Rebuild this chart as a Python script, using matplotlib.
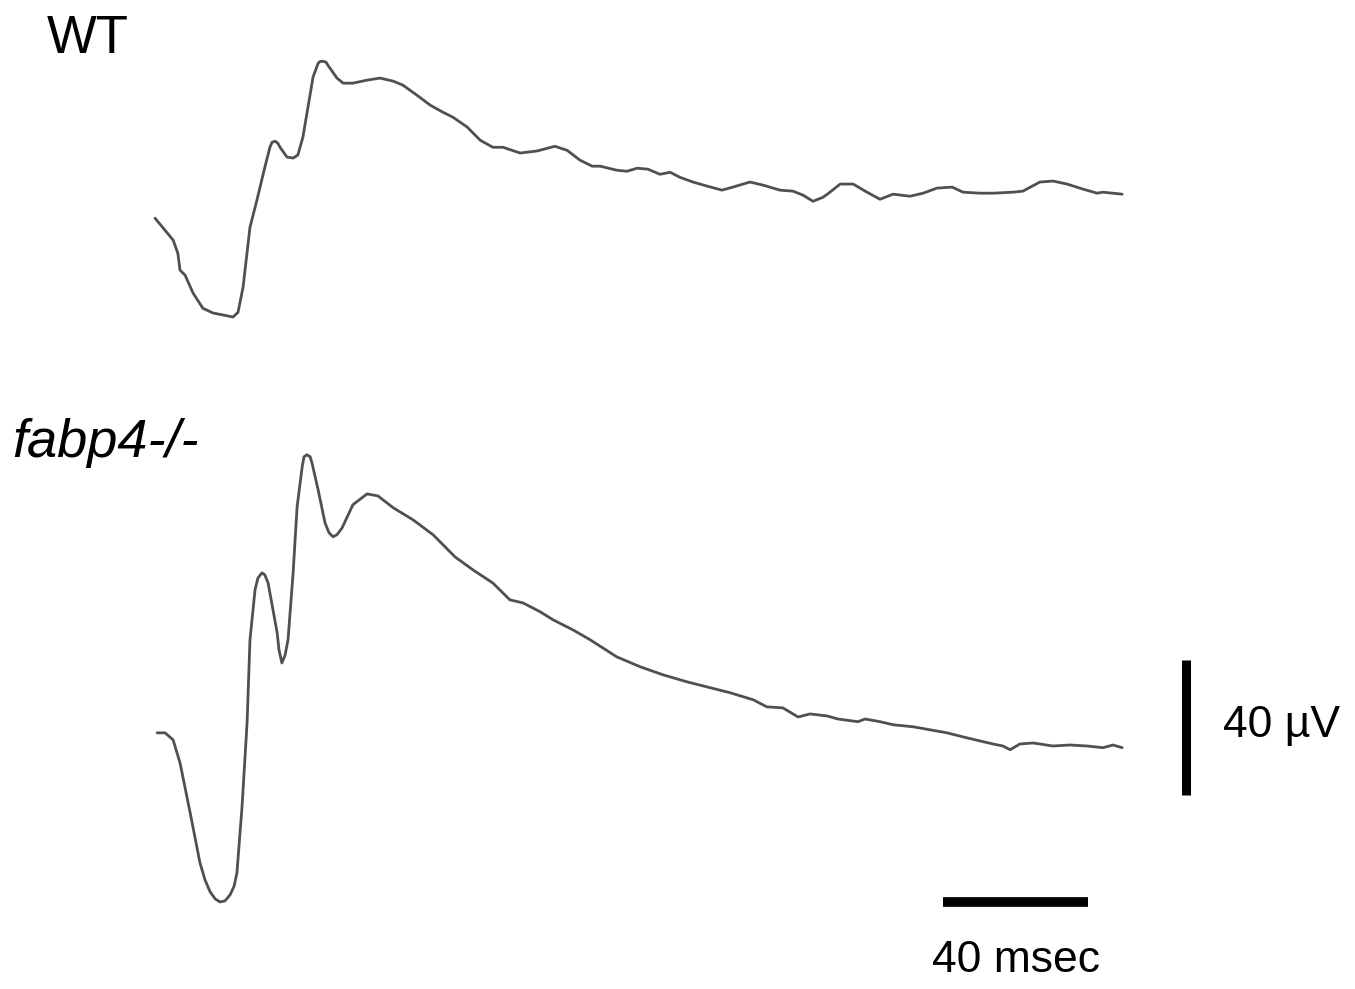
import matplotlib
matplotlib.use("Agg")
import matplotlib.pyplot as plt
import numpy as np

plt.rcParams['font.family'] = ['Liberation Sans', 'DejaVu Sans']

# WT trace: time (ms) and amplitude (uV, relative to first sample)
wt_t = [0.0, 5.0, 6.3, 6.9, 8.3, 10.5, 13.2, 16.0, 18.8, 21.5, 22.9, 24.3, 26.2, 28.1,
        30.3, 31.7, 32.3, 33.1, 33.9, 34.5, 36.4, 38.1, 39.4, 40.8, 42.2, 43.6, 45.0,
        45.5, 46.3, 47.2, 47.7,
        50.2, 51.9, 54.6, 58.5, 62.1, 65.7, 68.4, 72.3, 75.9, 79.4, 82.2, 86.1, 89.7,
        93.2, 96.0, 100.7, 105.4, 110.3, 113.7, 117.2, 120.6, 122.8, 127.4, 130.2,
        133.0, 136.0, 139.3, 142.1, 144.8, 148.4, 152.3, 156.4, 159.4, 164.1, 167.7,
        172.4, 176.0, 178.8, 181.5, 184.3, 186.2, 189.0, 192.6, 196.4, 200.0, 203.6,
        208.3, 211.9, 215.7, 219.9, 222.9, 227.6, 231.2, 236.7, 239.4, 244.1, 247.7,
        251.6, 256.0, 259.9, 261.5, 266.8]
wt_v = [0.0, -6.5, -10.4, -15.4, -16.9, -22.2, -26.7, -28.1, -28.7, -29.3, -27.9, -20.4,
        -2.7, 5.3, 15.1, 21.0, 22.5, 22.8, 22.2, 21.0, 18.1, 17.8, 18.7, 24.0, 32.9,
        41.8, 45.9, 46.4, 46.5, 46.2, 45.3,
        41.5, 40.0, 40.0, 40.9, 41.5, 40.6, 39.4, 36.4, 33.5, 31.4, 29.9,
        27.0, 23.1, 21.0, 21.0, 19.3, 19.9, 21.3, 20.1, 17.2, 15.4, 15.4, 14.2, 13.9,
        14.8, 14.5, 13.0, 13.6, 12.1, 10.7, 9.5, 8.3, 9.2, 10.7, 9.8, 8.3, 8.0, 6.8,
        5.0, 6.2, 7.7, 10.1, 10.1, 7.7, 5.6, 7.1, 6.5, 7.4, 8.9, 9.2, 7.7, 7.4, 7.4,
        7.7, 8.0, 10.7, 11.0, 10.1, 8.6, 7.4, 7.7, 7.1]

# fabp4-/- trace
ko_t = [0.6, 2.8, 5.0, 6.9, 9.7, 12.4, 13.8, 15.2, 16.6, 17.9, 19.3, 20.7, 21.8, 22.6,
        24.0, 25.4, 26.2, 27.6, 28.4, 29.5, 30.3, 31.2, 33.7, 34.2, 35.0, 35.9, 36.7,
        38.1, 39.2, 40.6, 41.1, 41.9, 42.8, 43.3, 45.0, 46.9, 48.0, 49.1, 50.2,
        51.6, 54.6, 58.5, 61.5, 65.7, 71.2, 76.7, 82.8, 87.7, 93.2, 97.9, 101.5, 106.2,
        109.8, 115.3, 120.0, 127.4, 133.8, 140.1, 146.8, 152.3, 158.6, 165.0, 168.8,
        173.2, 177.4, 180.7, 185.4, 188.4, 193.9, 195.9, 200.0, 203.6, 209.1, 213.8,
        218.5, 222.9, 227.6, 231.2, 233.9, 235.9, 238.6, 242.2, 247.7, 252.4, 257.1,
        261.5, 264.3, 266.8]
ko_v = [0.0, 0.0, -2.1, -8.9, -23.7, -38.5, -43.6, -47.1, -49.2, -50.1, -49.8, -48.0,
        -45.5, -41.5, -22.0, 3.0, 27.6, 42.4, 45.9, 47.4, 46.8, 44.4, 29.6, 24.6, 20.7,
        23.1, 27.6, 47.4, 67.0, 78.8, 81.8, 82.4, 81.8, 80.0, 72.0, 62.2, 59.3, 58.1,
        58.7, 60.7, 67.6, 70.8, 70.2, 66.7, 63.1, 58.7, 52.1, 48.3, 44.4, 39.4, 38.5,
        35.9, 33.5, 30.5, 27.6, 22.5, 19.6, 17.2, 15.1, 13.6, 11.9, 9.8, 7.7, 7.4, 4.7,
        5.6, 5.0, 4.1, 3.3, 4.1, 3.3, 2.4, 1.8, 0.9, 0.0, -1.2, -2.4, -3.3, -3.9, -5.0,
        -3.3, -3.0, -3.9, -3.6, -3.9, -4.4, -3.6, -4.4]

labels = ["WT", "fabp4-/-"]
scale_ms = 40
scale_uv = 40

# layout (vertical offsets of each trace, uV)
wt_off = 228.4
ko_off = 75.9

fig = plt.figure(figsize=(13.55, 9.89), dpi=100)
ax = fig.add_axes([0, 0, 1, 1])
ax.set_xlim(-42.76, 331.03)
ax.set_ylim(0, 293.04)
ax.axis("off")

trace_col = "#505050"
ax.plot(wt_t, np.array(wt_v) + wt_off, color=trace_col, lw=2.0,
        solid_joinstyle='round', solid_capstyle='round')
ax.plot(ko_t, np.array(ko_v) + ko_off, color=trace_col, lw=2.0,
        solid_joinstyle='round', solid_capstyle='round')

# scale bars
hx0, hy = 217.4, 25.8
ax.plot([hx0, hx0 + scale_ms], [hy, hy], color="black", lw=7, solid_capstyle='butt')
ax.text(hx0 + scale_ms / 2, 5.0, "%d msec" % scale_ms, ha="center", va="baseline", fontsize=32)

vx, vy0 = 284.4, 57.5
ax.plot([vx, vx], [vy0, vy0 + scale_uv], color="black", lw=6.5, solid_capstyle='butt')
ax.text(294.6, 74.7, "%d \u00b5V" % scale_uv, ha="left", va="baseline", fontsize=32)

fig.text(47 / 1355, 1 - 53 / 989, labels[0], fontsize=38, va="baseline")
fig.text(12 / 1355, 1 - 457 / 989, labels[1], fontsize=39, style="italic", va="baseline")

fig.savefig("out.png", dpi=100, facecolor="white")
